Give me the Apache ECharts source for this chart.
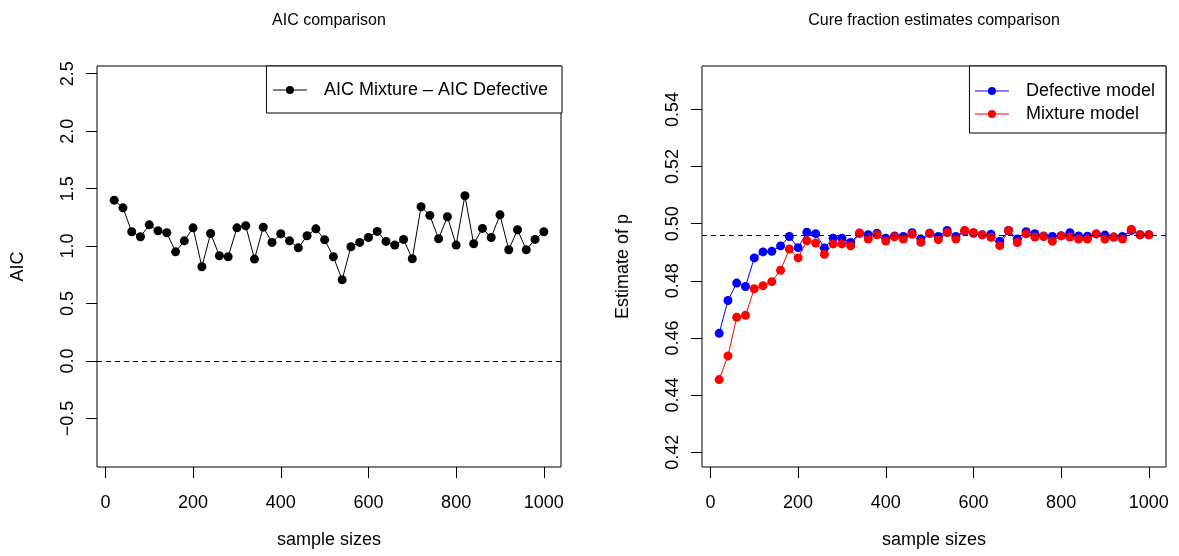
<!DOCTYPE html>
<html>
<head>
<meta charset="utf-8">
<title>AIC and cure fraction comparison</title>
<script src="https://cdn.jsdelivr.net/npm/echarts@6/dist/echarts.min.js"></script>
<style>
  html, body { margin: 0; padding: 0; background: #fff; }
  #main { width: 1179px; height: 556px; }
</style>
</head>
<body>
<div id="main"></div>
<script>
// sample sizes used in both panels
var sampleSizes = [20, 40, 60, 80, 100, 120, 140, 160, 180, 200,
  220, 240, 260, 280, 300, 320, 340, 360, 380, 400,
  420, 440, 460, 480, 500, 520, 540, 560, 580, 600,
  620, 640, 660, 680, 700, 720, 740, 760, 780, 800,
  820, 840, 860, 880, 900, 920, 940, 960, 980, 1000]

// left panel: AIC mixture - AIC defective
var aicDiff = [1.40, 1.333, 1.125, 1.081, 1.185, 1.133, 1.116, 0.950, 1.046, 1.159,
  0.820, 1.110, 0.916, 0.907, 1.159, 1.177, 0.887, 1.165, 1.032, 1.107,
  1.046, 0.985, 1.090, 1.150, 1.055, 0.907, 0.707, 0.994, 1.032, 1.075,
  1.128, 1.041, 1.009, 1.058, 0.890, 1.342, 1.267, 1.064, 1.255, 1.009,
  1.438, 1.020, 1.154, 1.075, 1.272, 0.968, 1.142, 0.968, 1.058, 1.125]

// right panel: estimates of the cure fraction p
var defectiveP = [0.4616, 0.4731, 0.4792, 0.4780, 0.4880, 0.4901, 0.4903, 0.4922, 0.4955, 0.4916,
  0.4970, 0.4965, 0.4915, 0.4949, 0.4949, 0.4934, 0.4966, 0.4961, 0.4966, 0.4949,
  0.4957, 0.4955, 0.4968, 0.4946, 0.4966, 0.4955, 0.4976, 0.4955, 0.4974, 0.4966,
  0.4961, 0.4963, 0.4938, 0.4976, 0.4946, 0.4972, 0.4965, 0.4957, 0.4955, 0.4958,
  0.4968, 0.4957, 0.4956, 0.4964, 0.4960, 0.4953, 0.4955, 0.4976, 0.4961, 0.4961]
var mixtureP = [0.4454, 0.4537, 0.4672, 0.4679, 0.4772, 0.4783, 0.4797, 0.4837, 0.4911, 0.4880,
  0.4940, 0.4932, 0.4893, 0.4929, 0.4929, 0.4922, 0.4967, 0.4946, 0.4961, 0.4939,
  0.4954, 0.4946, 0.4963, 0.4935, 0.4966, 0.4944, 0.4969, 0.4946, 0.4976, 0.4969,
  0.4961, 0.4952, 0.4923, 0.4976, 0.4934, 0.4964, 0.4953, 0.4955, 0.4938, 0.4957,
  0.4953, 0.4946, 0.4946, 0.4964, 0.4946, 0.4953, 0.4946, 0.4980, 0.4961, 0.4961]

var trueP = 0.496

// tick labels
var xTicks = [0, 200, 400, 600, 800, 1000]
var aicTicks = [-0.5, 0, 0.5, 1, 1.5, 2, 2.5]
var pTicks = [0.42, 0.44, 0.46, 0.48, 0.50, 0.52, 0.54]

var FONT = 'Liberation Sans, Arial, sans-serif'

function pairs (ys) {
  return sampleSizes.map(function (x, i) { return [x, ys[i]] })
}

function xAxisOpt (gridIndex) {
  return {
    type: 'value',
    gridIndex: gridIndex,
    min: -19.2,
    max: 1039.2,
    name: 'sample sizes',
    nameLocation: 'middle',
    nameGap: 64,
    nameTextStyle: { color: '#000', fontSize: 18, fontFamily: FONT },
    axisLine: { show: false, onZero: false },
    splitLine: { show: false },
    axisTick: { show: true, length: 11, customValues: xTicks, lineStyle: { color: '#000' } },
    axisLabel: {
      customValues: xTicks,
      margin: 27,
      color: '#000',
      fontSize: 18,
      fontFamily: FONT,
      formatter: function (v) { return String(v) }
    }
  }
}

function yAxisOpt (gridIndex, min, max, ticks, digits, name) {
  return {
    type: 'value',
    gridIndex: gridIndex,
    min: min,
    max: max,
    name: name,
    nameLocation: 'middle',
    nameRotate: 90,
    nameGap: 70,
    nameTextStyle: { color: '#000', fontSize: 18, fontFamily: FONT },
    axisLine: { show: false, onZero: false },
    splitLine: { show: false },
    axisTick: { show: true, length: 11, customValues: ticks, lineStyle: { color: '#000' } },
    axisLabel: {
      customValues: ticks,
      rotate: 90,
      margin: 20,
      color: '#000',
      fontSize: 18,
      fontFamily: FONT,
      formatter: function (v) { return v.toFixed(digits).replace('-', '\u2212') }
    }
  }
}

function dashed (y) {
  return {
    silent: true,
    symbol: 'none',
    precision: 4,
    label: { show: false },
    lineStyle: { color: '#000', width: 1, type: [5, 4] },
    data: [{ yAxis: y }]
  }
}

var legendBase = {
  orient: 'vertical',
  top: 66,
  itemWidth: 34,
  itemHeight: 10,
  itemGap: 5,
  borderColor: '#000',
  borderWidth: 1,
  borderRadius: 0,
  backgroundColor: '#fff',
  lineStyle: { width: 1 },
  textStyle: { color: '#000', fontSize: 18, fontFamily: FONT, padding: [0, 0, 0, 12] }
}

var myChart = echarts.init(document.getElementById('main'))
var option = {
  animation: false,
  backgroundColor: '#fff',
  title: [
    { text: 'AIC comparison', left: 329, top: 13, textAlign: 'center', padding: 0,
      textStyle: { color: '#000', fontSize: 16, fontWeight: 'normal', fontFamily: FONT } },
    { text: 'Cure fraction estimates comparison', left: 934, top: 13, textAlign: 'center', padding: 0,
      textStyle: { color: '#000', fontSize: 16, fontWeight: 'normal', fontFamily: FONT } }
  ],
  grid: [
    { left: 97, right: 618, top: 66, bottom: 89, show: true, borderColor: '#000', borderWidth: 1, outerBoundsMode: 'none' },
    { left: 702, right: 13, top: 66, bottom: 89, show: true, borderColor: '#000', borderWidth: 1, outerBoundsMode: 'none' }
  ],
  legend: [
    Object.assign({}, legendBase, { right: 617, padding: [15, 14, 14, 6], data: ['AIC Mixture \u2013 AIC Defective'] }),
    Object.assign({}, legendBase, { right: 13, padding: [16, 11, 10, 5], data: ['Defective model', 'Mixture model'] })
  ],
  xAxis: [xAxisOpt(0), xAxisOpt(1)],
  yAxis: [
    yAxisOpt(0, -0.922, 2.567, aicTicks, 1, 'AIC'),
    yAxisOpt(1, 0.4148, 0.5552, pTicks, 2, 'Estimate of p')
  ],
  series: [
    {
      name: 'AIC Mixture \u2013 AIC Defective',
      type: 'line',
      xAxisIndex: 0,
      yAxisIndex: 0,
      data: pairs(aicDiff),
      symbol: 'circle',
      symbolSize: 9,
      color: '#000',
      lineStyle: { color: '#000', width: 1 },
      itemStyle: { color: '#000' },
      markLine: dashed(0)
    },
    {
      name: 'Defective model',
      type: 'line',
      xAxisIndex: 1,
      yAxisIndex: 1,
      data: pairs(defectiveP),
      symbol: 'circle',
      symbolSize: 9,
      color: '#0000ff',
      lineStyle: { color: '#0000ff', width: 1 },
      itemStyle: { color: '#0000ff' },
      markLine: dashed(trueP)
    },
    {
      name: 'Mixture model',
      type: 'line',
      xAxisIndex: 1,
      yAxisIndex: 1,
      data: pairs(mixtureP),
      symbol: 'circle',
      symbolSize: 9,
      color: '#ff0000',
      lineStyle: { color: '#ff0000', width: 1 },
      itemStyle: { color: '#ff0000' }
    }
  ]
}
myChart.setOption(option)
</script>
</body>
</html>
